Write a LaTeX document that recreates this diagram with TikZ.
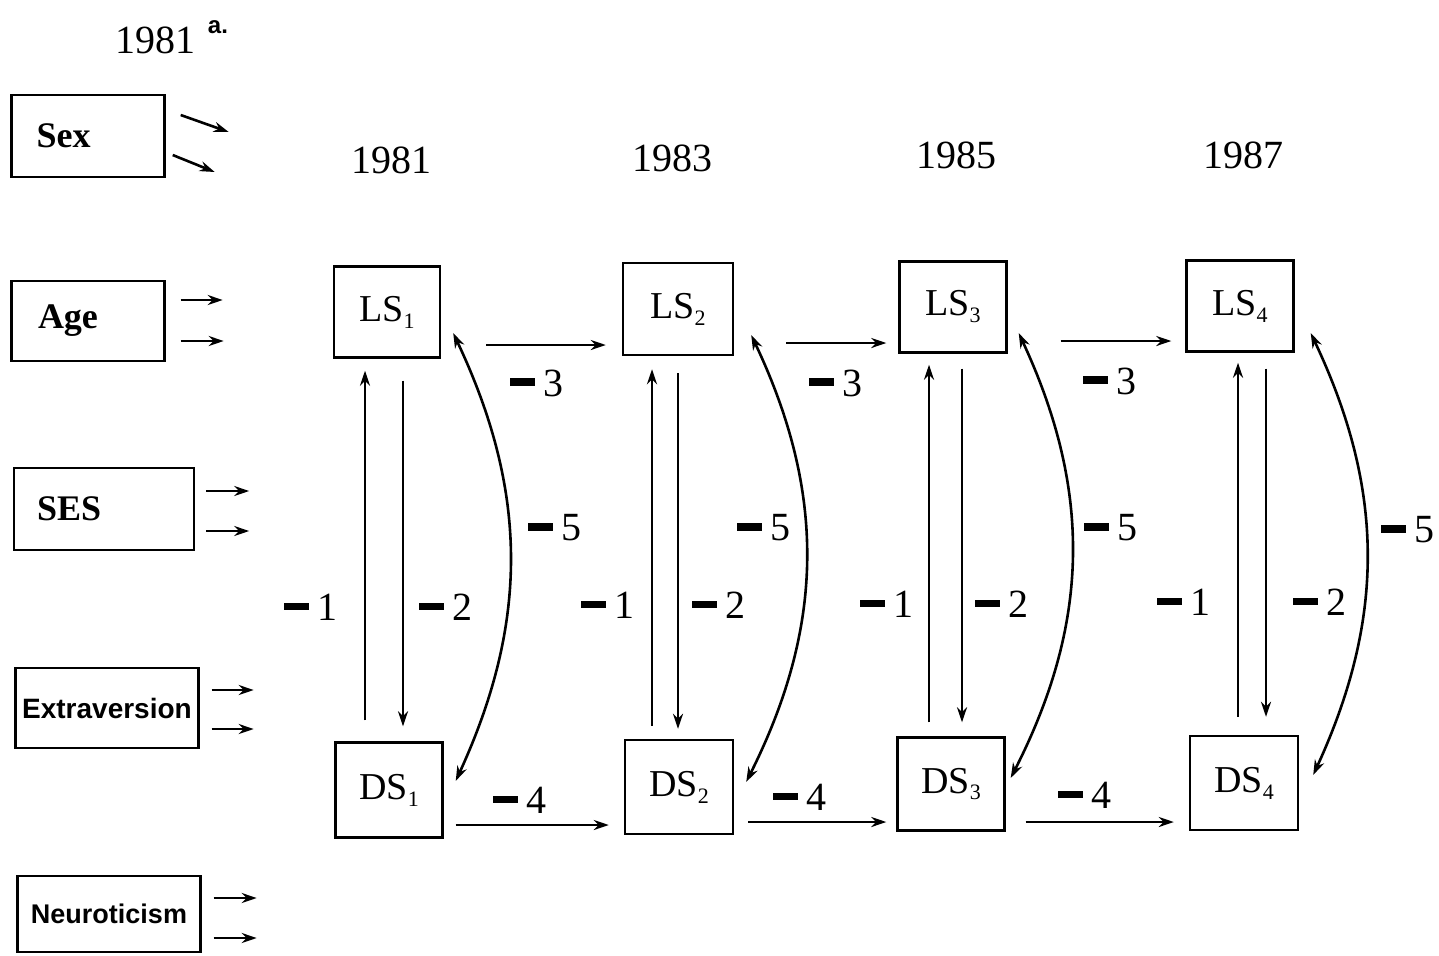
\documentclass[tikz,border=0pt]{standalone}
\usepackage{fontspec}
\setmainfont{Liberation Serif}
\setsansfont{Liberation Sans}
\usetikzlibrary{arrows.meta}
% heavy minus bar used in the path labels
\newcommand\mbar{\rule[0.25em]{0.62em}{0.19em}}
\newcommand\pathlab[1]{\mbar\hspace{0.22em}#1}
\newcommand\lowsub[1]{\raisebox{-0.4ex}{\fontsize{11}{11}\selectfont #1}}
\begin{document}
\begin{tikzpicture}[x=0.5pt,y=-0.5pt,
  arr/.style={line width=1.3pt,-{Stealth[length=7.5pt,width=5pt]}},
  dbl/.style={line width=1.3pt,{Stealth[length=7.5pt,width=5pt]}-{Stealth[length=7.5pt,width=5pt]}},
  var/.style={draw,line width=1.2pt,inner sep=0pt,font=\fontsize{19}{22}\selectfont},
  cov/.style={draw,line width=1.2pt,align=left,font=\fontsize{18}{20}\selectfont\bfseries},
  covs/.style={draw,line width=1.2pt,inner sep=0pt,font=\sffamily\bfseries},
  lab/.style={font=\fontsize{20}{22}\selectfont,inner sep=0pt},
  yr/.style={font=\fontsize{20}{22}\selectfont,inner sep=0pt}]
\useasboundingbox (0,0) rectangle (1439,955);

% title
\node[yr] (ttl) at (155,40) {1981};
\node[inner sep=0pt,font=\sffamily\bfseries\fontsize{12}{12}\selectfont] (ttla) at (218,27) {a.};

% wave years
\node[yr] (y1) at (391,160) {1981};
\node[yr] (y2) at (672,158) {1983};
\node[yr] (y3) at (956,155) {1985};
\node[yr] (y4) at (1243,155) {1987};

% exogenous covariates
\node[cov,minimum width=76.5pt,minimum height=41pt,text width=51.5pt,inner xsep=12.5pt,inner ysep=0pt] (sex) at (88,136) {Sex};
\node[cov,minimum width=76.5pt,minimum height=40pt,text width=50pt,inner xsep=13.25pt,inner ysep=0pt] (age) at (88,321) {Age};
\node[cov,minimum width=90pt,minimum height=41pt,text width=67pt,inner xsep=11.5pt,inner ysep=0pt] (ses) at (104,509) {SES};
\node[covs,minimum width=91.5pt,minimum height=40pt,font=\sffamily\bfseries\fontsize{14}{16}\selectfont] (extra) at (107,708) {Extraversion};
\node[covs,minimum width=91.5pt,minimum height=38pt,font=\sffamily\bfseries\fontsize{13.5}{16}\selectfont] (neuro) at (109,914) {Neuroticism};

% covariate paths
\draw[arr] ([xshift=7.5pt,yshift=10.5pt]sex.east) -- ([xshift=31.5pt,yshift=2pt]sex.east);
\draw[arr] ([xshift=3.5pt,yshift=-9.5pt]sex.east) -- ([xshift=24.5pt,yshift=-18pt]sex.east);
\draw[arr] ([xshift=7.5pt,yshift=10.5pt]age.east) -- ([xshift=28.5pt,yshift=10.5pt]age.east);
\draw[arr] ([xshift=7.5pt,yshift=-10pt]age.east) -- ([xshift=29pt,yshift=-10pt]age.east);
\draw[arr] ([xshift=5.5pt,yshift=9pt]ses.east) -- ([xshift=27pt,yshift=9pt]ses.east);
\draw[arr] ([xshift=5.5pt,yshift=-11pt]ses.east) -- ([xshift=27pt,yshift=-11pt]ses.east);
\draw[arr] ([xshift=6pt,yshift=9pt]extra.east) -- ([xshift=27pt,yshift=9pt]extra.east);
\draw[arr] ([xshift=6pt,yshift=-10.5pt]extra.east) -- ([xshift=27pt,yshift=-10.5pt]extra.east);
\draw[arr] ([xshift=6pt,yshift=8pt]neuro.east) -- ([xshift=27.5pt,yshift=8pt]neuro.east);
\draw[arr] ([xshift=6pt,yshift=-12pt]neuro.east) -- ([xshift=27.5pt,yshift=-12pt]neuro.east);

% life satisfaction and domain satisfaction per wave
\node[var,minimum width=53pt,minimum height=45.5pt] (LS1) at (387,312) {LS\lowsub{1}};
\node[var,minimum width=55pt,minimum height=46pt] (LS2) at (678,309) {LS\lowsub{2}};
\node[var,minimum width=53.5pt,minimum height=45.5pt] (LS3) at (953,307) {LS\lowsub{3}};
\node[var,minimum width=53.5pt,minimum height=45.5pt] (LS4) at (1240,306) {LS\lowsub{4}};
\node[var,minimum width=53.5pt,minimum height=47.5pt] (DS1) at (389,790) {DS\lowsub{1}};
\node[var,minimum width=54pt,minimum height=47pt] (DS2) at (679,787) {DS\lowsub{2}};
\node[var,minimum width=53.5pt,minimum height=46.5pt] (DS3) at (951,784) {DS\lowsub{3}};
\node[var,minimum width=54pt,minimum height=47pt] (DS4) at (1244,783) {DS\lowsub{4}};

% bottom-up (1) and top-down (2) paths
\draw[arr] ([xshift=-12pt,yshift=10.5pt]DS1.north) -- ([xshift=-11pt,yshift=-6pt]LS1.south);
\draw[arr] ([xshift=8pt,yshift=-11pt]LS1.south) -- ([xshift=7pt,yshift=7.5pt]DS1.north);
\draw[arr] ([xshift=-13.5pt,yshift=6.5pt]DS2.north) -- ([xshift=-13pt,yshift=-6.5pt]LS2.south);
\draw[arr] ([xshift=0pt,yshift=-8.5pt]LS2.south) -- ([xshift=-0.5pt,yshift=5pt]DS2.north);
\draw[arr] ([xshift=-11pt,yshift=7pt]DS3.north) -- ([xshift=-12pt,yshift=-5.5pt]LS3.south);
\draw[arr] ([xshift=4.5pt,yshift=-7.5pt]LS3.south) -- ([xshift=5.5pt,yshift=7pt]DS3.north);
\draw[arr] ([xshift=-3pt,yshift=9pt]DS4.north) -- ([xshift=-1pt,yshift=-5pt]LS4.south);
\draw[arr] ([xshift=13pt,yshift=-8pt]LS4.south) -- ([xshift=11pt,yshift=9pt]DS4.north);

% stability paths (3 and 4)
\draw[arr] ([xshift=22.5pt,yshift=-16.5pt]LS1.east) -- ([xshift=-8pt,yshift=-18pt]LS2.west);
\draw[arr] ([xshift=26pt,yshift=-17pt]LS2.east) -- ([xshift=-6pt,yshift=-18pt]LS3.west);
\draw[arr] ([xshift=26.5pt,yshift=-17pt]LS3.east) -- ([xshift=-7pt,yshift=-17.5pt]LS4.west);
\draw[arr] ([xshift=6pt,yshift=-17.5pt]DS1.east) -- ([xshift=-7.5pt,yshift=-19pt]DS2.west);
\draw[arr] ([xshift=7pt,yshift=-17.5pt]DS2.east) -- ([xshift=-5pt,yshift=-19pt]DS3.west);
\draw[arr] ([xshift=10pt,yshift=-19pt]DS3.east) -- ([xshift=-7.5pt,yshift=-19.5pt]DS4.west);

% correlated residuals (5)
\draw[dbl] ([xshift=6pt,yshift=-10.5pt]LS1.east) to[bend left=25] ([xshift=6pt,yshift=4.5pt]DS1.east);
\draw[dbl] ([xshift=8.5pt,yshift=-13pt]LS2.east) to[bend left=26] ([xshift=6pt,yshift=2.5pt]DS2.east);
\draw[dbl] ([xshift=5.5pt,yshift=-13pt]LS3.east) to[bend left=26] ([xshift=2.5pt,yshift=3pt]DS3.east);
\draw[dbl] ([xshift=8pt,yshift=-13.5pt]LS4.east) to[bend left=25] ([xshift=7pt,yshift=4pt]DS4.east);

% path labels
\node[lab] (l1a) at (311,607) {\pathlab{1}};
\node[lab] (l2a) at (446,607) {\pathlab{2}};
\node[lab] (l1b) at (608,605) {\pathlab{1}};
\node[lab] (l2b) at (719,605) {\pathlab{2}};
\node[lab] (l1c) at (887,604) {\pathlab{1}};
\node[lab] (l2c) at (1002,604) {\pathlab{2}};
\node[lab] (l1d) at (1184,602) {\pathlab{1}};
\node[lab] (l2d) at (1320,602) {\pathlab{2}};

\node[lab] (l3a) at (537,383) {\pathlab{3}};
\node[lab] (l3b) at (836,383) {\pathlab{3}};
\node[lab] (l3c) at (1110,381) {\pathlab{3}};
\node[lab] (l4a) at (520,800) {\pathlab{4}};
\node[lab] (l4b) at (800,797) {\pathlab{4}};
\node[lab] (l4c) at (1085,795) {\pathlab{4}};

\node[lab] (l5a) at (555,528) {\pathlab{5}};
\node[lab] (l5b) at (764,528) {\pathlab{5}};
\node[lab] (l5c) at (1111,528) {\pathlab{5}};
\node[lab] (l5d) at (1408,530) {\pathlab{5}};
\end{tikzpicture}
\end{document}
